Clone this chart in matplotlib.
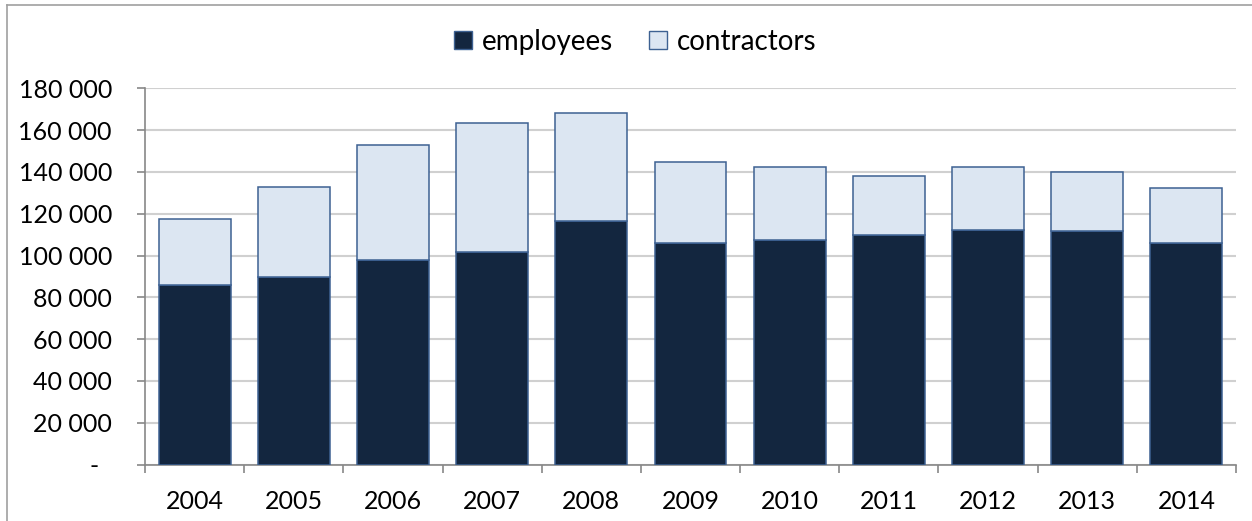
import numpy as np
import matplotlib.pyplot as plt
from matplotlib.patches import Patch
from matplotlib.lines import Line2D
from matplotlib.ticker import FuncFormatter

# headcount by year
YEARS = ["2004", "2005", "2006", "2007", "2008", "2009", "2010", "2011", "2012", "2013", "2014"]
EMPLOYEES = [86000, 89900, 98000, 101500, 116500, 106000, 107300, 109700, 112400, 111900, 105800]
TOTAL = [117300, 132900, 152700, 163600, 168300, 144600, 142200, 137900, 142200, 140100, 132300]
CONTRACTORS = [t - e for t, e in zip(TOTAL, EMPLOYEES)]

DARK = "#13263f"
LIGHT = "#dce6f2"
EDGE = "#3d6192"
GRID = "#d0d0d0"
AXIS = "#878787"

plt.rcParams['font.family'] = ['Lato', 'DejaVu Sans']

fig = plt.figure(figsize=(12.52, 5.21), dpi=100)
ax = fig.add_axes([0.1158, 0.1084, 0.8714, 0.7221])

x = np.arange(len(YEARS))
w = 0.725
ax.bar(x, EMPLOYEES, w, color=DARK, edgecolor=EDGE, linewidth=1.1, zorder=3)
ax.bar(x, CONTRACTORS, w, bottom=EMPLOYEES, color=LIGHT, edgecolor=EDGE, linewidth=1.1, zorder=3)

ax.set_xlim(-0.5, len(YEARS) - 0.5)
ax.set_ylim(0, 180000)
ax.set_yticks(np.arange(0, 180001, 20000))

def fmt(v, pos):
    if v == 0:
        return "-  "
    return f"{int(v):,}".replace(",", " ")

ax.yaxis.set_major_formatter(FuncFormatter(fmt))
ax.set_xticks(x)
ax.set_xticklabels(YEARS)
ax.set_xticks(np.arange(-0.5, len(YEARS)), minor=True)

ax.grid(axis="y", color=GRID, linewidth=1.5, zorder=0)
for s in ["top", "right"]:
    ax.spines[s].set_visible(False)
for s in ["left", "bottom"]:
    ax.spines[s].set_color(AXIS)
    ax.spines[s].set_linewidth(1.2)

ax.tick_params(axis="y", length=5.8, width=1.2, color=AXIS, labelsize=18, pad=18)
ax.tick_params(axis="x", which="major", length=0, labelsize=18, pad=18)
ax.tick_params(axis="x", which="minor", length=5.8, width=1.2, color=AXIS)

handles = [Patch(facecolor=DARK, edgecolor=EDGE, label="employees"),
           Patch(facecolor=LIGHT, edgecolor=EDGE, label="contractors")]
fig.legend(handles=handles, loc="center", bbox_to_anchor=(0.5076, 0.92), ncol=2,
           frameon=False, fontsize=20, handlelength=0.65, handleheight=0.65,
           handletextpad=0.35, columnspacing=1.3)

# chart frame
fig.add_artist(Line2D([0.0056, 1.0], [0.990, 0.990], transform=fig.transFigure, color="#a0a0a0", linewidth=1.2))
fig.add_artist(Line2D([0.0056, 0.0056], [0.0, 0.990], transform=fig.transFigure, color="#a0a0a0", linewidth=1.2))

fig.savefig("out.png", dpi=100)
